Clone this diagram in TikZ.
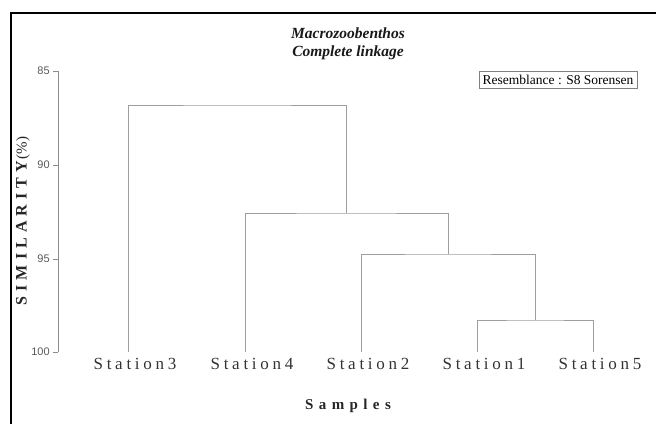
\documentclass[tikz,border=0pt]{standalone}
\usepackage{fontspec}
\setmainfont{Liberation Serif}
\setsansfont{Liberation Sans}
\newfontfamily\spacedfont[LetterSpace=22]{Liberation Serif}
\newfontfamily\widefont[LetterSpace=36]{Liberation Serif}
\newfontfamily\ylabfont[LetterSpace=32]{Liberation Serif}
\begin{document}
\begin{tikzpicture}[x=1pt,y=-1pt,
  frame/.style={line width=2pt,black},
  axisline/.style={line width=0.7pt,draw=black!45},
  branch/.style={line width=0.9pt,draw=black!38},
  ticklab/.style={font=\sffamily\fontsize{11}{13}\selectfont,text=black!65,anchor=east,inner sep=0pt},
  leaflab/.style={font=\spacedfont\fontsize{17}{19}\selectfont,text=black!80,anchor=north,inner sep=0pt},
  titlelab/.style={font=\itshape\bfseries\fontsize{15.5}{18}\selectfont,align=center,inner sep=0pt,text=black!90},
  axlab/.style={font=\widefont\bfseries\fontsize{15}{17}\selectfont,inner sep=0pt,text=black!85}]
\useasboundingbox (0,0) rectangle (656,424);
\draw[frame] (11,424) -- (11,13) -- (656,13);
% axis
\coordinate (a85) at (58,71);
\coordinate (a100) at (58,352);
\draw[axisline] (a85) -- (a100);
\foreach \v/\y in {85/71,90/165,95/259,100/352}{
  \coordinate (t\v) at (58,\y);
  \draw[axisline] (t\v) -- ++(-5,0) node[ticklab,xshift=-3pt] (n\v) {\v};
}
% title
\node[titlelab] (title) at (348,44) {Macrozoobenthos\\Complete linkage};
\node[draw=black!50,line width=0.5pt,font=\fontsize{13.5}{15}\selectfont,inner xsep=2pt,inner ysep=1.5pt,minimum width=158pt,minimum height=17pt] (res) at (558,79.5) {Resemblance : S8 Sorensen};
% leaves
\coordinate (s3) at (128,352);
\coordinate (s4) at (245,352);
\coordinate (s2) at (361,352);
\coordinate (s1) at (477,352);
\coordinate (s5) at (593,352);
\node[leaflab] (l3) at (135,358) {Station3};
\node[leaflab] (l4) at (252,358) {Station4};
\node[leaflab] (l2) at (368,358) {Station2};
\node[leaflab] (l1) at (484,358) {Station1};
\node[leaflab] (l5) at (600,358) {Station5};
% merges
\coordinate (m15) at (535,320);
\coordinate (m2) at (448,254);
\coordinate (m4) at (346,213);
\coordinate (mt) at (237,105);
\draw[branch] (s1) |- (m15) -| (s5);
\draw[branch] (m15) |- (m2) -| (s2);
\draw[branch] (m2) |- (m4) -| (s4);
\draw[branch] (m4) |- (mt) -| (s3);
% axis labels
\node[rotate=90,inner sep=0pt,text=black!85] (ylab) at (23,221) {{\ylabfont\bfseries\fontsize{16}{18}\selectfont SIMILARITY}\,{\fontsize{15}{17}\selectfont (\%)}};
\node[axlab] (xlab) at (348,406) {Samples};
\end{tikzpicture}
\end{document}
